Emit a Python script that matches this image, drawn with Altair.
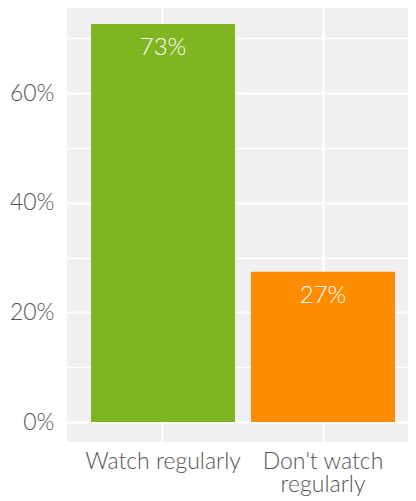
import altair as alt
import pandas as pd

categories = ["Watch regularly", "Don't watch\nregularly"]
values = [72.6, 27.4]
labels = ["73%", "27%"]
colors = ["#80b522", "#ff8c00"]
y_ticks = [0, 10, 20, 30, 40, 50, 60, 70]

df = pd.DataFrame({"cat": categories, "val": values, "lab": labels, "col": colors})

x_enc = alt.X(
    "cat:N",
    sort=None,
    scale=alt.Scale(paddingInner=0.1, paddingOuter=0.15, range=[0, 352]),
    axis=alt.Axis(
        title=None,
        labelAngle=0,
        labelFont="Lato",
        labelFontSize=23,
        labelFontWeight=300,
        labelColor="#555555",
        labelExpr="split(datum.label, '\\n')",
        labelLineHeight=23,
        labelPadding=8,
        labelBaseline="top",
        ticks=False,
        domain=False,
        grid=True,
        gridColor="white",
        gridWidth=2.5,
        bandPosition=0.5,
    ),
)

y_scale = alt.Scale(domain=[-3.63, 76.23], nice=False, zero=False)

bars = alt.Chart(df).mark_bar(opacity=1).encode(
    x=x_enc,
    y=alt.Y(
        "val:Q",
        scale=y_scale,
        axis=alt.Axis(
            title=None,
            values=y_ticks,
            labelExpr="datum.value % 20 === 0 ? datum.value + '%' : ''",
            labelFont="Lato",
            labelFontSize=23,
            labelFontWeight=300,
            labelColor="#555555",
            labelPadding=13,
            ticks=False,
            domain=False,
            grid=True,
            gridColor="white",
            gridWidth={"condition": {"test": "datum.value % 20 === 0", "value": 2.2}, "value": 1.3},
        ),
    ),
    y2=alt.datum(0),
    color=alt.Color("col:N", scale=None, legend=None),
)

text = alt.Chart(df).mark_text(
    font="Lato", fontSize=24, fontWeight=300, color="white", baseline="alphabetic", dy=31
).encode(
    x=alt.X("cat:N", sort=None),
    y=alt.Y("val:Q"),
    text="lab:N",
)

chart = alt.layer(bars, text).properties(
    width=341,
    height=438,
    autosize=alt.AutoSizeParams(type="none"),
    padding={"left": 59, "top": -4, "right": 0, "bottom": 59},
).configure_view(fill="#f0f0f0", stroke=None)

chart.save("out.html", embed_options={"renderer": "svg", "actions": False})
